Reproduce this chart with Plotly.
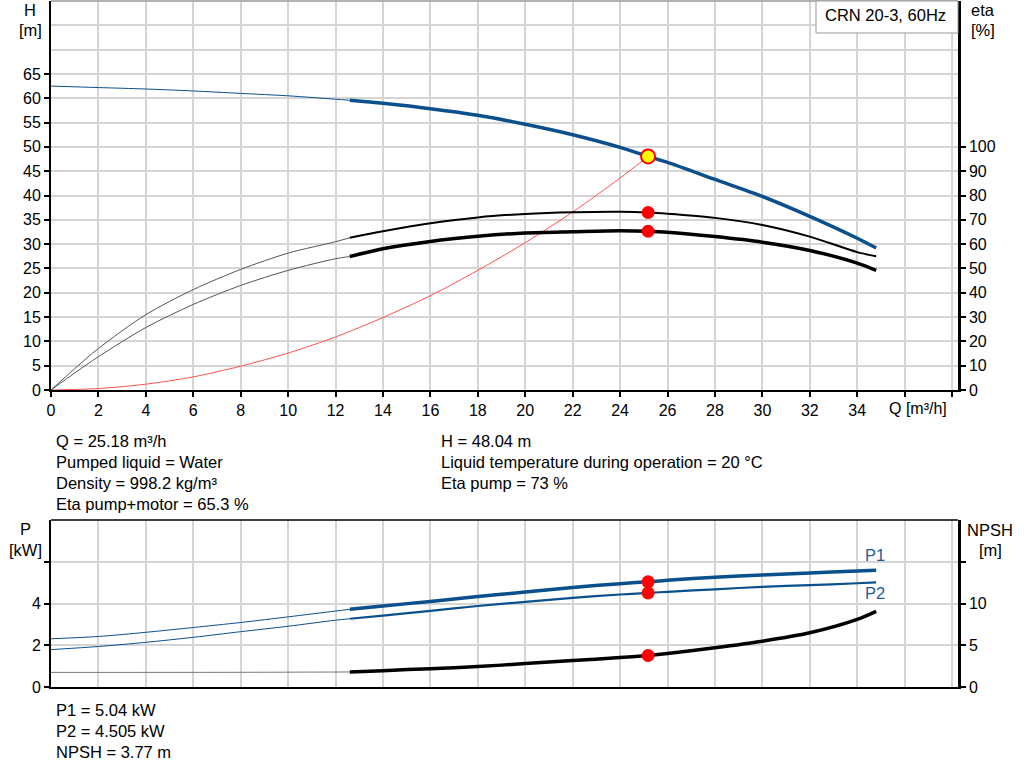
import plotly.graph_objects as go

W, H_PX = 1024, 781

# ---- duty point ----
q_duty = 25.18
h_duty = 48.04
eta_pump_duty = 73.0
eta_total_duty = 65.3
p1_duty = 5.04
p2_duty = 4.505
npsh_duty = 3.77

# ---- head curve H [m] ----
q_h_thin = [0, 2, 4, 6, 8, 10, 12, 12.6]
h_thin = [62.5, 62.2, 61.9, 61.5, 61.0, 60.5, 59.8, 59.6]
q_h = [12.6, 14, 16, 18, 20, 22, 24, 25.18, 26, 28, 30, 32, 34, 34.8]
h_vals = [59.6, 58.95, 57.85, 56.5, 54.65, 52.5, 49.9, 48.04, 46.8, 43.3, 39.8, 35.7, 31.2, 29.2]

# ---- system curve ----
q_sys = [0, 2, 4, 6, 8, 10, 12, 14, 16, 18, 20, 22, 24, 25.18]
h_sys = [0, 0.3, 1.2, 2.7, 4.9, 7.6, 10.9, 14.9, 19.4, 24.6, 30.3, 36.6, 43.6, 48.04]

# ---- efficiency curves [%] ----
q_eta_thin = [0, 1, 2, 4, 6, 8, 10, 12, 12.6]
eta_pump_thin = [0, 8.8, 17.1, 31.0, 41.3, 49.6, 56.3, 61.0, 62.6]
eta_total_thin = [0, 7.0, 13.7, 25.7, 35.2, 43.0, 49.2, 54.0, 54.9]
q_eta = [12.6, 14, 16, 18, 20, 22, 24, 25.18, 26, 28, 30, 32, 34, 34.8]
eta_pump = [62.6, 65.3, 68.6, 71.0, 72.4, 73.1, 73.3, 73.0, 72.5, 70.8, 67.9, 63.1, 56.7, 55.0]
eta_total = [54.9, 58.1, 61.1, 63.2, 64.6, 65.1, 65.5, 65.3, 64.9, 63.1, 60.8, 57.4, 52.2, 49.2]

# ---- power curves [kW] ----
q_p_thin = [0, 2, 4, 6, 8, 10, 12, 12.6]
p1_thin = [2.31, 2.42, 2.62, 2.85, 3.09, 3.36, 3.64, 3.72]
p2_thin = [1.79, 1.94, 2.14, 2.38, 2.65, 2.91, 3.2, 3.27]
q_p = [12.6, 14, 16, 18, 20, 22, 24, 25.18, 26, 28, 30, 32, 34, 34.8]
p1_vals = [3.72, 3.88, 4.1, 4.33, 4.55, 4.77, 4.95, 5.04, 5.11, 5.26, 5.37, 5.46, 5.56, 5.59]
p2_vals = [3.27, 3.42, 3.65, 3.88, 4.08, 4.27, 4.43, 4.505, 4.56, 4.68, 4.8, 4.88, 4.97, 5.01]

# ---- NPSH curve [m] ----
q_npsh_thin = [0, 4, 8, 12.6]
npsh_thin = [1.75, 1.75, 1.76, 1.8]
q_npsh = [12.6, 14, 16, 18, 20, 22, 24, 25.18, 26, 28, 30, 32, 34, 34.8]
npsh_vals = [1.8, 1.96, 2.2, 2.45, 2.8, 3.16, 3.52, 3.77, 4.0, 4.69, 5.48, 6.49, 8.09, 9.05]

x_ticks = list(range(0, 40, 2))
x_labels = [str(v) for v in range(0, 36, 2)] + ["", ""]
h_ticks = list(range(0, 70, 5))
eta_ticks = list(range(0, 110, 10))

BLUE = "#0b4f8c"
GRID = "#d5d5d5"
FONT = "Liberation Sans, Arial, sans-serif"
TICK = dict(size=16, color="black")
TXT = 16.5


def px_x(p):
    return p / W


def px_y(p):
    return 1 - p / H_PX


def curve(x, y, color, width, xa="x", ya="y"):
    return go.Scatter(x=x, y=y, xaxis=xa, yaxis=ya, mode="lines",
                      line=dict(color=color, width=width, shape="spline", smoothing=0.8))


fig = go.Figure()

# top panel
fig.add_trace(curve(q_sys, h_sys, "#ff5050", 1))
fig.add_trace(curve(q_h_thin, h_thin, BLUE, 1))
fig.add_trace(curve(q_h, h_vals, BLUE, 3.5))
fig.add_trace(curve(q_eta_thin, eta_pump_thin, "#555555", 1, ya="y2"))
fig.add_trace(curve(q_eta_thin, eta_total_thin, "#555555", 1, ya="y2"))
fig.add_trace(curve(q_eta, eta_pump, "black", 2, ya="y2"))
fig.add_trace(curve(q_eta, eta_total, "black", 3.5, ya="y2"))
fig.add_trace(go.Scatter(x=[q_duty, q_duty], y=[eta_pump_duty, eta_total_duty], yaxis="y2",
                         mode="markers", marker=dict(color="#ff0000", size=13)))
fig.add_trace(go.Scatter(x=[q_duty], y=[h_duty], mode="markers",
                         marker=dict(color="#ffff00", size=14, line=dict(color="#ff0000", width=2))))

# bottom panel
fig.add_trace(curve(q_p_thin, p1_thin, BLUE, 1, "x2", "y3"))
fig.add_trace(curve(q_p_thin, p2_thin, BLUE, 1, "x2", "y3"))
fig.add_trace(curve(q_p, p1_vals, BLUE, 3.5, "x2", "y3"))
fig.add_trace(curve(q_p, p2_vals, BLUE, 2.2, "x2", "y3"))
fig.add_trace(curve(q_npsh_thin, npsh_thin, "#777777", 1, "x2", "y4"))
fig.add_trace(curve(q_npsh, npsh_vals, "black", 3.5, "x2", "y4"))
fig.add_trace(go.Scatter(x=[q_duty, q_duty], y=[p1_duty, p2_duty], xaxis="x2", yaxis="y3",
                         mode="markers", marker=dict(color="#ff0000", size=13)))
fig.add_trace(go.Scatter(x=[q_duty], y=[npsh_duty], xaxis="x2", yaxis="y4",
                         mode="markers", marker=dict(color="#ff0000", size=13)))

xdom = [px_x(51), px_x(958)]
top_dom = [px_y(390), px_y(1)]
bot_dom = [px_y(687), px_y(520)]

xcommon = dict(range=[0, 38.25], showgrid=True, gridcolor=GRID, gridwidth=1.5, zeroline=False,
               showline=True, linecolor="black", linewidth=2, fixedrange=True,
               tickfont=TICK, automargin=False, tickvals=x_ticks)

fig.update_layout(
    width=W, height=H_PX,
    margin=dict(l=0, r=0, t=0, b=0),
    paper_bgcolor="white", plot_bgcolor="white",
    showlegend=False,
    font=dict(family=FONT, size=TXT, color="black"),
    xaxis=dict(xcommon, domain=xdom, anchor="y", ticktext=x_labels, ticks="outside",
               ticklen=5, tickcolor="black", tickwidth=1.5),
    yaxis=dict(domain=top_dom, range=[0, 80], tickvals=h_ticks, ticks="outside", ticklen=5,
               tickcolor="black", tickwidth=1.5, showgrid=True, gridcolor=GRID, gridwidth=1.5,
               zeroline=False, showline=True, linecolor="black", linewidth=2, automargin=False,
               tickfont=TICK,
               minor=dict(tickvals=[70, 75, 80], showgrid=True, gridcolor=GRID, gridwidth=1.5, ticks="")),
    yaxis2=dict(overlaying="y", side="right", anchor="x", range=[0, 160], tickvals=eta_ticks,
                ticks="outside", ticklen=5, tickcolor="black", tickwidth=1.5, showgrid=False,
                zeroline=False, showline=True, linecolor="black", linewidth=2.5, automargin=False,
                tickfont=TICK),
    xaxis2=dict(xcommon, domain=xdom, anchor="y3", matches="x", showticklabels=False, ticks=""),
    yaxis3=dict(domain=bot_dom, range=[0, 8], tickvals=[0, 2, 4, 6], ticktext=["0", "2", "4", ""],
                ticks="outside", ticklen=5, tickcolor="black", tickwidth=1.5, showgrid=True,
                gridcolor=GRID, gridwidth=1.5, zeroline=False, showline=True, linecolor="black",
                linewidth=2, automargin=False, tickfont=TICK),
    yaxis4=dict(overlaying="y3", side="right", anchor="x2", range=[0, 20], tickvals=[0, 5, 10, 15],
                ticktext=["0", "5", "10", ""], ticks="outside", ticklen=5, tickcolor="black",
                tickwidth=1.5, showgrid=False, zeroline=False, showline=True, linecolor="black",
                linewidth=2.5, automargin=False, tickfont=TICK),
)

# panel borders and product box
fig.add_shape(type="line", xref="paper", yref="paper", x0=xdom[0], x1=xdom[1],
              y0=top_dom[1], y1=top_dom[1], line=dict(color="#999999", width=1.5))
fig.add_shape(type="line", xref="paper", yref="paper", x0=xdom[0], x1=xdom[1],
              y0=bot_dom[1], y1=bot_dom[1], line=dict(color="black", width=1.5))
fig.add_shape(type="rect", xref="paper", yref="paper", x0=px_x(816), x1=px_x(958),
              y0=px_y(33), y1=px_y(1), fillcolor="white", line=dict(color="#999999", width=1))


def label(text, x, y, anchor="center", color="black", size=TXT):
    fig.add_annotation(text=text, x=px_x(x), y=px_y(y), xref="paper", yref="paper",
                       xanchor=anchor, yanchor="middle", showarrow=False,
                       font=dict(size=size, color=color, family=FONT))


label("CRN 20-3, 60Hz", 823, 15, "left")
label("H", 30, 10)
label("[m]", 30, 30)
label("eta", 983, 10)
label("[%]", 983, 30)
label("Q [m³/h]", 887, 408, "left", size=16)
label("P", 25, 529)
label("[kW]", 25, 550)
label("NPSH", 990, 530)
label("[m]", 990, 550)
label("P1", 875, 555, color="#1f5c99")
label("P2", 875, 593, color="#1f5c99")

left_info = [f"Q = {q_duty} m³/h", "Pumped liquid = Water", "Density = 998.2 kg/m³",
             f"Eta pump+motor = {eta_total_duty} %"]
right_info = [f"H = {h_duty} m", "Liquid temperature during operation = 20 °C",
              f"Eta pump = {eta_pump_duty:g} %"]
bottom_info = [f"P1 = {p1_duty} kW", f"P2 = {p2_duty} kW", f"NPSH = {npsh_duty} m"]

for i, t in enumerate(left_info):
    label(t, 54, 440.5 + i * 21.2, "left")
for i, t in enumerate(right_info):
    label(t, 439, 440.5 + i * 21.2, "left")
for i, t in enumerate(bottom_info):
    label(t, 54, 710 + i * 21.2, "left")

# drop the default page margin so the figure sits at the window corner
fig.write_html("out.html", config={"displayModeBar": False},
               post_script="document.body.style.margin='0px';")
